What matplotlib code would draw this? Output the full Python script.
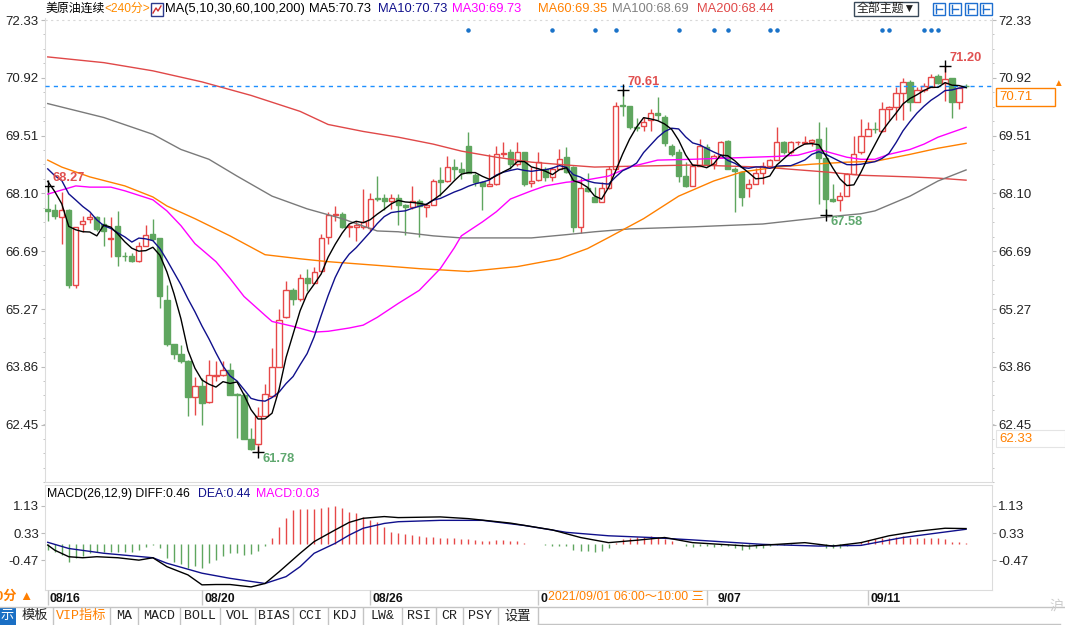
import matplotlib
matplotlib.use("Agg")
import matplotlib.pyplot as plt
import pandas as pd
from matplotlib.patches import Rectangle

plt.rcParams['font.family'] = ['Liberation Sans', 'Noto Sans CJK SC', 'DejaVu Sans']

# ---- data (240 minute bars) ----
opens = [67.72, 67.70, 67.52, 67.70, 65.85, 67.35, 67.47, 67.52, 67.36, 66.99,
         67.31, 66.58, 66.56, 66.45, 66.82, 67.10, 67.00, 65.50, 64.42, 64.18,
         64.01, 63.13, 63.40, 63.00, 63.64, 63.67, 63.79, 63.20, 63.17, 62.09,
         61.97, 62.65, 63.16, 63.86, 65.07, 65.75, 65.51, 66.04, 65.90, 66.21,
         67.04, 67.58, 67.60, 67.28, 67.28, 67.28, 67.26, 67.98, 67.98, 67.90,
         67.99, 67.82, 67.77, 67.90, 67.77, 67.82, 68.43, 68.40, 68.74, 68.69,
         69.25, 68.55, 68.38, 68.28, 68.33, 69.05, 69.10, 68.81, 69.10, 68.35,
         68.43, 68.69, 68.50, 68.69, 68.99, 68.74, 67.28, 68.23, 68.02, 67.89,
         68.23, 68.70, 70.26, 70.22, 69.72, 69.74, 69.90, 70.07, 69.97, 69.25,
         69.10, 68.52, 68.28, 68.76, 69.22, 68.81, 68.99, 69.37, 68.69, 68.62,
         68.23, 68.33, 68.60, 68.76, 68.91, 69.35, 69.10, 69.34, 69.33, 69.35,
         69.42, 68.96, 67.96, 67.94, 68.04, 68.57, 69.10, 69.51, 69.68, 69.61,
         70.17, 70.20, 70.56, 70.82, 70.32, 70.63, 70.70, 70.97, 70.80, 70.92,
         70.32, 70.73]
highs = [68.27, 67.85, 68.13, 67.72, 67.28, 67.55, 67.62, 67.55, 67.52, 67.52,
         67.67, 66.67, 66.63, 66.90, 67.33, 67.48, 67.02, 65.85, 64.43, 64.40,
         64.02, 63.62, 63.60, 64.03, 64.00, 64.00, 63.96, 63.22, 63.22, 62.38,
         62.87, 63.45, 64.32, 65.27, 65.97, 65.78, 66.14, 66.26, 66.29, 67.10,
         67.64, 67.79, 67.65, 67.36, 67.43, 68.20, 68.10, 68.52, 68.08, 68.08,
         68.08, 67.84, 68.28, 67.95, 67.84, 68.45, 68.74, 69.00, 68.94, 68.86,
         69.59, 68.59, 68.40, 69.05, 69.25, 69.34, 69.17, 69.34, 69.12, 68.74,
         69.12, 68.74, 68.74, 69.17, 69.22, 68.76, 68.47, 68.60, 68.26, 68.38,
         68.76, 70.32, 70.61, 70.24, 69.95, 69.97, 70.15, 70.46, 70.02, 69.30,
         69.17, 68.86, 68.81, 69.42, 69.30, 69.05, 69.37, 69.39, 68.74, 68.64,
         68.45, 68.71, 68.86, 68.94, 69.71, 69.37, 69.37, 69.38, 69.50, 69.42,
         69.85, 69.71, 68.33, 68.13, 68.60, 69.49, 69.92, 69.85, 69.85, 70.32,
         70.22, 70.70, 70.92, 70.87, 70.70, 70.80, 71.02, 71.02, 71.20, 70.92,
         70.68, 70.78]
lows = [67.43, 67.48, 66.87, 65.78, 65.78, 67.15, 67.38, 67.18, 66.82, 66.55,
        66.33, 66.45, 66.43, 66.43, 66.82, 66.94, 65.29, 64.37, 64.06, 63.96,
        62.67, 62.69, 62.43, 62.99, 63.52, 63.64, 63.18, 62.13, 62.09, 61.82,
        61.78, 62.65, 63.16, 63.86, 65.05, 65.36, 65.46, 65.71, 65.90, 66.21,
        66.87, 67.43, 67.26, 67.04, 66.94, 67.23, 67.18, 67.90, 67.68, 67.72,
        67.33, 67.07, 67.72, 67.04, 67.52, 67.82, 68.04, 68.38, 68.45, 68.45,
        68.60, 68.28, 67.68, 68.28, 68.30, 68.98, 68.69, 68.76, 68.28, 68.25,
        68.40, 68.40, 68.40, 68.69, 68.60, 67.16, 67.14, 68.14, 67.89, 67.89,
        68.20, 68.69, 69.98, 69.66, 69.61, 69.61, 69.61, 69.90, 69.25, 69.00,
        68.38, 68.26, 68.28, 68.76, 68.76, 68.69, 68.98, 68.69, 67.64, 67.79,
        68.01, 68.33, 68.33, 68.74, 68.91, 69.05, 69.05, 69.27, 69.30, 69.25,
        67.84, 67.58, 67.89, 67.67, 68.04, 68.57, 69.07, 69.49, 69.56, 69.59,
        69.90, 69.90, 69.90, 70.10, 70.32, 70.58, 70.70, 70.78, 70.36, 69.95,
        70.17, 70.68]
closes = [67.66, 67.55, 67.70, 65.85, 67.28, 67.43, 67.51, 67.23, 67.18, 67.02,
          66.58, 66.56, 66.45, 66.82, 67.09, 66.99, 65.58, 64.42, 64.18, 64.01,
          63.13, 63.40, 62.98, 63.67, 63.66, 63.79, 63.18, 63.17, 62.09, 61.85,
          62.65, 63.20, 63.86, 65.00, 65.75, 65.51, 66.04, 65.90, 66.19, 67.00,
          67.57, 67.60, 67.28, 67.30, 67.33, 67.40, 67.96, 67.96, 67.90, 67.99,
          67.82, 67.77, 67.90, 67.80, 67.82, 68.40, 68.38, 68.74, 68.69, 68.62,
          68.60, 68.38, 68.28, 68.33, 69.05, 69.08, 68.81, 69.10, 68.33, 68.40,
          68.86, 68.50, 68.69, 68.94, 68.62, 67.28, 68.23, 68.16, 67.89, 68.23,
          68.70, 70.22, 70.23, 69.73, 69.70, 69.85, 70.07, 70.02, 69.32, 69.05,
          68.52, 68.28, 68.76, 69.25, 68.81, 69.00, 69.34, 68.69, 68.64, 68.01,
          68.33, 68.60, 68.76, 68.91, 69.35, 69.10, 69.35, 69.36, 69.36, 69.39,
          68.96, 67.96, 67.91, 68.04, 68.57, 69.05, 69.49, 69.68, 69.66, 70.17,
          70.20, 70.56, 70.82, 70.32, 70.63, 70.73, 70.95, 70.80, 70.90, 70.32,
          70.68, 70.71]
# closes before the visible window (needed for the MA5 / MA10 start)
prev_closes = [69.20, 68.90, 69.10, 68.80, 69.00, 68.80, 69.20, 68.60, 67.70]

# longer moving averages at sample bars
ma30_idx = [0, 4, 6, 9, 11, 15, 17, 19, 21, 24, 26, 28, 31, 32, 35, 38, 40, 43, 45, 47,
            50, 53, 56, 58, 59, 62, 64, 66, 69, 71, 74, 76, 80, 83, 87, 92, 97, 104,
            107, 110, 114, 116, 118, 120, 123, 125, 127, 131]
ma30_val = [68.08, 68.28, 68.25, 68.25, 68.16, 67.94, 67.67, 67.31, 66.87, 66.43,
            66.02, 65.58, 65.12, 64.97, 64.85, 64.71, 64.73, 64.81, 64.88, 65.07,
            65.41, 65.73, 66.26, 66.77, 67.06, 67.40, 67.65, 67.96, 68.16, 68.28,
            68.37, 68.40, 68.52, 68.74, 68.91, 68.93, 68.96, 69.00, 69.03, 69.17,
            68.98, 68.93, 68.93, 69.05, 69.17, 69.30, 69.47, 69.71]
ma60_idx = [0, 2, 6, 11, 15, 17, 21, 26, 31, 36, 40, 47, 53, 60, 67, 73, 77, 80, 85,
            90, 95, 99, 104, 109, 114, 118, 123, 127, 131]
ma60_val = [68.91, 68.74, 68.50, 68.28, 68.01, 67.79, 67.48, 67.06, 66.60, 66.50,
            66.43, 66.34, 66.26, 66.19, 66.31, 66.50, 66.75, 67.02, 67.48, 68.03,
            68.40, 68.62, 68.74, 68.81, 68.86, 68.88, 69.05, 69.20, 69.32]
ma100_idx = [0, 8, 15, 19, 23, 27, 32, 37, 42, 47, 50, 55, 59, 64, 69, 74, 78, 83, 92,
             102, 111, 116, 118, 123, 127, 131]
ma100_val = [70.29, 69.95, 69.54, 69.17, 68.93, 68.52, 68.03, 67.72, 67.48, 67.18,
             67.16, 67.06, 67.01, 67.01, 67.01, 67.09, 67.16, 67.23, 67.28, 67.35,
             67.52, 67.60, 67.67, 68.03, 68.40, 68.67]
ma200_idx = [0, 8, 15, 22, 29, 36, 40, 45, 50, 55, 59, 64, 69, 74, 78, 83, 92, 102,
             111, 116, 123, 127, 131]
ma200_val = [71.43, 71.29, 71.09, 70.82, 70.49, 70.10, 69.78, 69.61, 69.47, 69.30,
             69.13, 68.98, 68.86, 68.79, 68.74, 68.76, 68.79, 68.74, 68.62, 68.54,
             68.50, 68.47, 68.42]

# MACD(26,12,9)
macd_hist = [-0.17, -0.23, -0.31, -0.50, -0.41, -0.33, -0.26, -0.23, -0.21, -0.23,
             -0.21, -0.21, -0.21, -0.17, -0.07, -0.02, -0.12, -0.39, -0.50, -0.58,
             -0.70, -0.62, -0.68, -0.55, -0.46, -0.33, -0.26, -0.26, -0.31, -0.29,
             -0.19, -0.04, 0.19, 0.51, 0.78, 1.00, 1.02, 1.02, 1.03, 1.07,
             1.10, 1.11, 1.07, 0.95, 0.90, 0.80, 0.71, 0.66, 0.51, 0.37,
             0.32, 0.30, 0.28, 0.25, 0.22, 0.22, 0.20, 0.20, 0.18, 0.16,
             0.15, 0.12, 0.10, 0.10, 0.12, 0.12, 0.10, 0.10, 0.05, 0.02,
             0.00, -0.02, -0.04, -0.05, -0.06, -0.15, -0.18, -0.20, -0.22, -0.18,
             -0.12, 0.05, 0.15, 0.20, 0.22, 0.22, 0.24, 0.22, 0.15, 0.10,
             0.02, -0.05, -0.08, -0.05, -0.06, -0.08, -0.05, -0.06, -0.10, -0.15,
             -0.14, -0.12, -0.10, -0.06, -0.03, -0.02, -0.01, 0.00, 0.02, 0.02,
             -0.02, -0.10, -0.12, -0.10, -0.06, 0.02, 0.08, 0.12, 0.15, 0.18,
             0.20, 0.22, 0.24, 0.20, 0.20, 0.20, 0.20, 0.18, 0.15, 0.08,
             0.06, 0.03]
diff_idx = [0, 1, 3, 5, 7, 10, 13, 15, 17, 20, 22, 24, 26, 29, 31, 33, 36, 38, 41, 43,
            45, 48, 50, 56, 60, 66, 72, 76, 80, 84, 88, 92, 96, 100, 104, 108, 112,
            116, 120, 124, 128, 131]
diff_val = [-0.02, -0.17, -0.36, -0.39, -0.36, -0.39, -0.46, -0.39, -0.65, -0.89,
            -1.18, -1.17, -1.17, -1.24, -1.14, -0.80, -0.26, 0.08, 0.42, 0.64,
            0.76, 0.81, 0.78, 0.80, 0.75, 0.62, 0.42, 0.20, 0.05, 0.12,
            0.20, 0.05, 0.00, -0.05, 0.00, 0.05, -0.05, 0.05, 0.25, 0.38,
            0.47, 0.46]
dea_idx = [0, 3, 8, 15, 17, 22, 26, 31, 34, 36, 38, 41, 43, 45, 48, 50, 56, 62, 68,
           74, 80, 86, 92, 102, 110, 116, 122, 131]
dea_val = [0.06, -0.12, -0.26, -0.39, -0.55, -0.84, -0.99, -1.14, -0.94, -0.65,
           -0.26, 0.03, 0.27, 0.47, 0.61, 0.66, 0.70, 0.70, 0.55, 0.35,
           0.25, 0.20, 0.13, 0.00, -0.05, -0.03, 0.20, 0.44]

date_idx = [0, 22, 46, 70, 94, 117]
date_labels = ['08/16', '08/20', '08/26', '09/01', '09/07', '09/11']
event_idx = [60, 72, 78, 81, 90, 95, 97, 103, 104, 119, 120, 125, 126, 127]
price_ticks = [72.33, 70.92, 69.51, 68.10, 66.69, 65.27, 63.86, 62.45]
macd_ticks = [1.13, 0.33, -0.47]
marks = [(0, 68.27, '68.27', 'high'), (30, 61.78, '61.78', 'low'),
         (82, 70.61, '70.61', 'high'), (111, 67.58, '67.58', 'low'),
         (128, 71.20, '71.20', 'high')]

RED = '#e64848'
GREEN = '#5fa65f'
NAVY = '#10108c'
W, H = 1065, 625


def rect(l, t, r, b):
    return [l / W, 1 - b / H, (r - l) / W, (b - t) / H]


def ftext(x, y, s, **kw):
    kw.setdefault('fontsize', 9.3)
    kw.setdefault('va', 'center')
    return fig.text(x / W, 1 - y / H, s, **kw)


def fbox(l, t, r, b, **kw):
    fig.add_artist(Rectangle((l / W, 1 - b / H), (r - l) / W, (b - t) / H,
                             transform=fig.transFigure, **kw))


def fline(xs, ys, **kw):
    fig.add_artist(plt.Line2D([x / W for x in xs], [1 - y / H for y in ys], **kw))


fig = plt.figure(figsize=(W / 100, H / 100), dpi=100)
XLIM = (-0.39, 134.7)

# ---------------- price panel ----------------
ax = fig.add_axes(rect(45, 18, 992, 482))
n = len(closes)
for i in range(n):
    o, h, l, c = opens[i], highs[i], lows[i], closes[i]
    up = c >= o
    col = RED if up else GREEN
    ax.vlines(i, l, h, color=col, lw=1, zorder=2)
    ax.add_patch(Rectangle((i - 0.37, min(o, c)), 0.74, max(abs(c - o), 0.012),
                           facecolor='white' if up else col, edgecolor=col,
                           lw=1, zorder=3))

s = pd.Series(prev_closes + closes)
ma5 = s.rolling(5).mean().iloc[len(prev_closes):].values
ma10 = s.rolling(10).mean().iloc[len(prev_closes):].values
ax.plot(ma200_idx, ma200_val, color='#e04848', lw=1, zorder=4)
ax.plot(ma100_idx, ma100_val, color='#7a7a7a', lw=1, zorder=4)
ax.plot(ma60_idx, ma60_val, color='#ff8000', lw=1, zorder=4)
ax.plot(ma30_idx, ma30_val, color='#ff00ff', lw=1, zorder=4)
ax.plot(range(n), ma10, color=NAVY, lw=1, zorder=5)
ax.plot(range(n), ma5, color='black', lw=1, zorder=6)

last = closes[-1]
ax.axhline(last, color='#1e8fff', lw=1, ls=(0, (3, 3)), zorder=5)
ax.axhline(price_ticks[0], color='#d8d8d8', lw=0.8, ls=(0, (2, 3)), zorder=1)

for xi, yv, lab, kind in marks:
    ax.plot(xi, yv, marker='+', color='black', ms=8, mew=1, zorder=7)
    if kind == 'high':
        ax.text(xi + 0.7, yv + 0.2, lab, color='#e05050', fontsize=9.3,
                fontweight='bold', va='center', ha='left', zorder=8)
    else:
        ax.text(xi + 0.6, yv - 0.17, lab, color='#5fa86f', fontsize=9.3,
                fontweight='bold', va='center', ha='left', zorder=8)

ax.scatter(event_idx, [0.974] * len(event_idx), s=5, color='#1a73c9',
           transform=ax.get_xaxis_transform(), zorder=8, clip_on=False)

ax.set_xlim(*XLIM)
ax.set_ylim(61.12, 72.38)
ax.set_xticks([])
ax.set_yticks(price_ticks)
ax.set_yticklabels(['%.2f' % v for v in price_ticks])
ax.set_yticks([price_ticks[0] - k * 0.3525 for k in range(33)], minor=True)
ax.tick_params(axis='y', which='both', left=True, right=True, labelleft=True,
               labelright=True, direction='out', length=3, pad=1.5,
               labelsize=9.5, colors='#bbbbbb', labelcolor='#222222')
ax.tick_params(axis='y', which='minor', length=1.5)
for sp in ax.spines.values():
    sp.set_color('#dcdcdc')
    sp.set_linewidth(0.8)
ax.spines['top'].set_visible(False)

# ---------------- MACD panel ----------------
ax2 = fig.add_axes(rect(45, 485, 992, 590))
ax2.vlines(range(n), 0, macd_hist, colors=[RED if v > 0 else GREEN for v in macd_hist],
           lw=1, zorder=2)
ax2.plot(dea_idx, dea_val, color=NAVY, lw=1, zorder=3)
ax2.plot(diff_idx, diff_val, color='black', lw=1, zorder=4)
ax2.set_xlim(*XLIM)
ax2.set_ylim(-1.33, 1.73)
ax2.set_xticks([])
ax2.set_yticks(macd_ticks)
ax2.set_yticklabels(['%.2f' % v for v in macd_ticks])
ax2.tick_params(axis='y', left=True, right=True, labelleft=True, labelright=True,
                direction='out', length=3, pad=1.5, labelsize=9.5,
                colors='#bbbbbb', labelcolor='#222222')
for sp in ax2.spines.values():
    sp.set_color('#dcdcdc')
    sp.set_linewidth(0.8)

# ---------------- date strip ----------------
ax3 = fig.add_axes(rect(45, 590, 992, 607))
ax3.set_xlim(*XLIM)
ax3.set_ylim(0, 1)
ax3.axis('off')
for xi, lab in zip(date_idx, date_labels):
    ax3.vlines(xi, 0.1, 1, color='#c8c8c8', lw=1)
    shown, shift = lab, 0.3
    if lab == '09/01':      # mostly hidden behind the cursor time tip
        shown = lab[:1]
    elif lab == '09/07':
        shown, shift = lab[1:], 1.5
    ax3.text(xi + shift, 0.45, shown, fontsize=8.8, fontweight='bold', va='center',
             ha='left', color='#111111')
ftext(548, 597, '2021/09/01 06:00～10:00 三', color='#ff8000', fontsize=8.9)
ftext(33, 597, '240分 ▲', color='#ff7f00', fontsize=9.5, ha='right',
      fontweight='bold')

# ---------------- header ----------------
ftext(45, 9, '美原油连续', color='black', fontsize=8.6)
ftext(104, 9, '<240分>', color='#ff8c00', fontsize=8.6)
fbox(151, 3, 163, 16, fc='white', ec='#2b3a8c', lw=1)
fline([153, 156, 158, 161], [13, 8, 11, 6], color='#d03030', lw=1)
ftext(165, 9, 'MA(5,10,30,60,100,200)', color='black')
ftext(309, 9, 'MA5:70.73', color='black')
ftext(378, 9, 'MA10:70.73', color=NAVY)
ftext(452, 9, 'MA30:69.73', color='#ff00ff')
ftext(538, 9, 'MA60:69.35', color='#ff8000')
ftext(612, 9, 'MA100:68.69', color='#808080')
ftext(697, 9, 'MA200:68.44', color='#e04848')
fbox(854, 2, 918, 16, fc='white', ec='#3a4a5a', lw=1)
ftext(886, 9, '全部主题▼', color='#222222', ha='center', fontsize=8.6)
for bx in [933, 949, 965, 980]:
    fbox(bx, 3, bx + 12, 15, fc='white', ec='#1e6fd0', lw=1)
    fline([bx + 3, bx + 3], [13, 5], color='#1e6fd0', lw=1)
    fline([bx + 3, bx + 9], [9, 9], color='#1e6fd0', lw=1)

# ---------------- MACD header ----------------
ftext(47, 494, 'MACD(26,12,9) DIFF:0.46', color='black', fontsize=8.8)
ftext(198, 494, 'DEA:0.44', color=NAVY, fontsize=8.8)
ftext(256, 494, 'MACD:0.03', color='#ff00ff', fontsize=8.8)

# ---------------- right side price tags ----------------
fbox(996, 88, 1055, 106, fc='white', ec='#ff8000', lw=1)
ftext(999, 97, '%.2f' % last, color='#ff8000', fontsize=9.5)
ftext(1058, 83, '▲', color='#ff8000', fontsize=7, ha='center')
fbox(996, 430, 1065, 447, fc='none', ec='#e4e4e4', lw=0.8)
ftext(999, 439, '62.33', color='#ff8000', fontsize=9.5)
ftext(1056, 606, '沪', color='#cccccc', fontsize=10, ha='center')

# ---------------- bottom tab bar ----------------
fline([0, W], [607, 607], color='#c4c4c4', lw=1)
fbox(0, 608, 16, 625, fc='#1a6fc4', ec='none')
ftext(7, 616, '示', color='white', fontsize=9.5, ha='center')
tabs = ['模板', 'VIP指标', 'MA', 'MACD', 'BOLL', 'VOL', 'BIAS', 'CCI', 'KDJ', 'LW&',
        'RSI', 'CR', 'PSY', '设置']
tab_edges = [16, 53, 110, 138, 180, 220, 255, 293, 328, 363, 402, 436, 463, 498, 538]
for k, name in enumerate(tabs):
    cx = (tab_edges[k] + tab_edges[k + 1]) / 2
    ftext(cx, 616, name, ha='center', fontsize=9.5,
          color='#ff8000' if name == 'VIP指标' else '#222222',
          family=['Liberation Mono', 'Noto Sans CJK SC'])
for e in tab_edges[1:]:
    fline([e, e], [608, 625], color='#c4c4c4', lw=1)
fline([538, 1060], [624, 624], color='#c4c4c4', lw=1)

fig.savefig('out.png', dpi=100)
